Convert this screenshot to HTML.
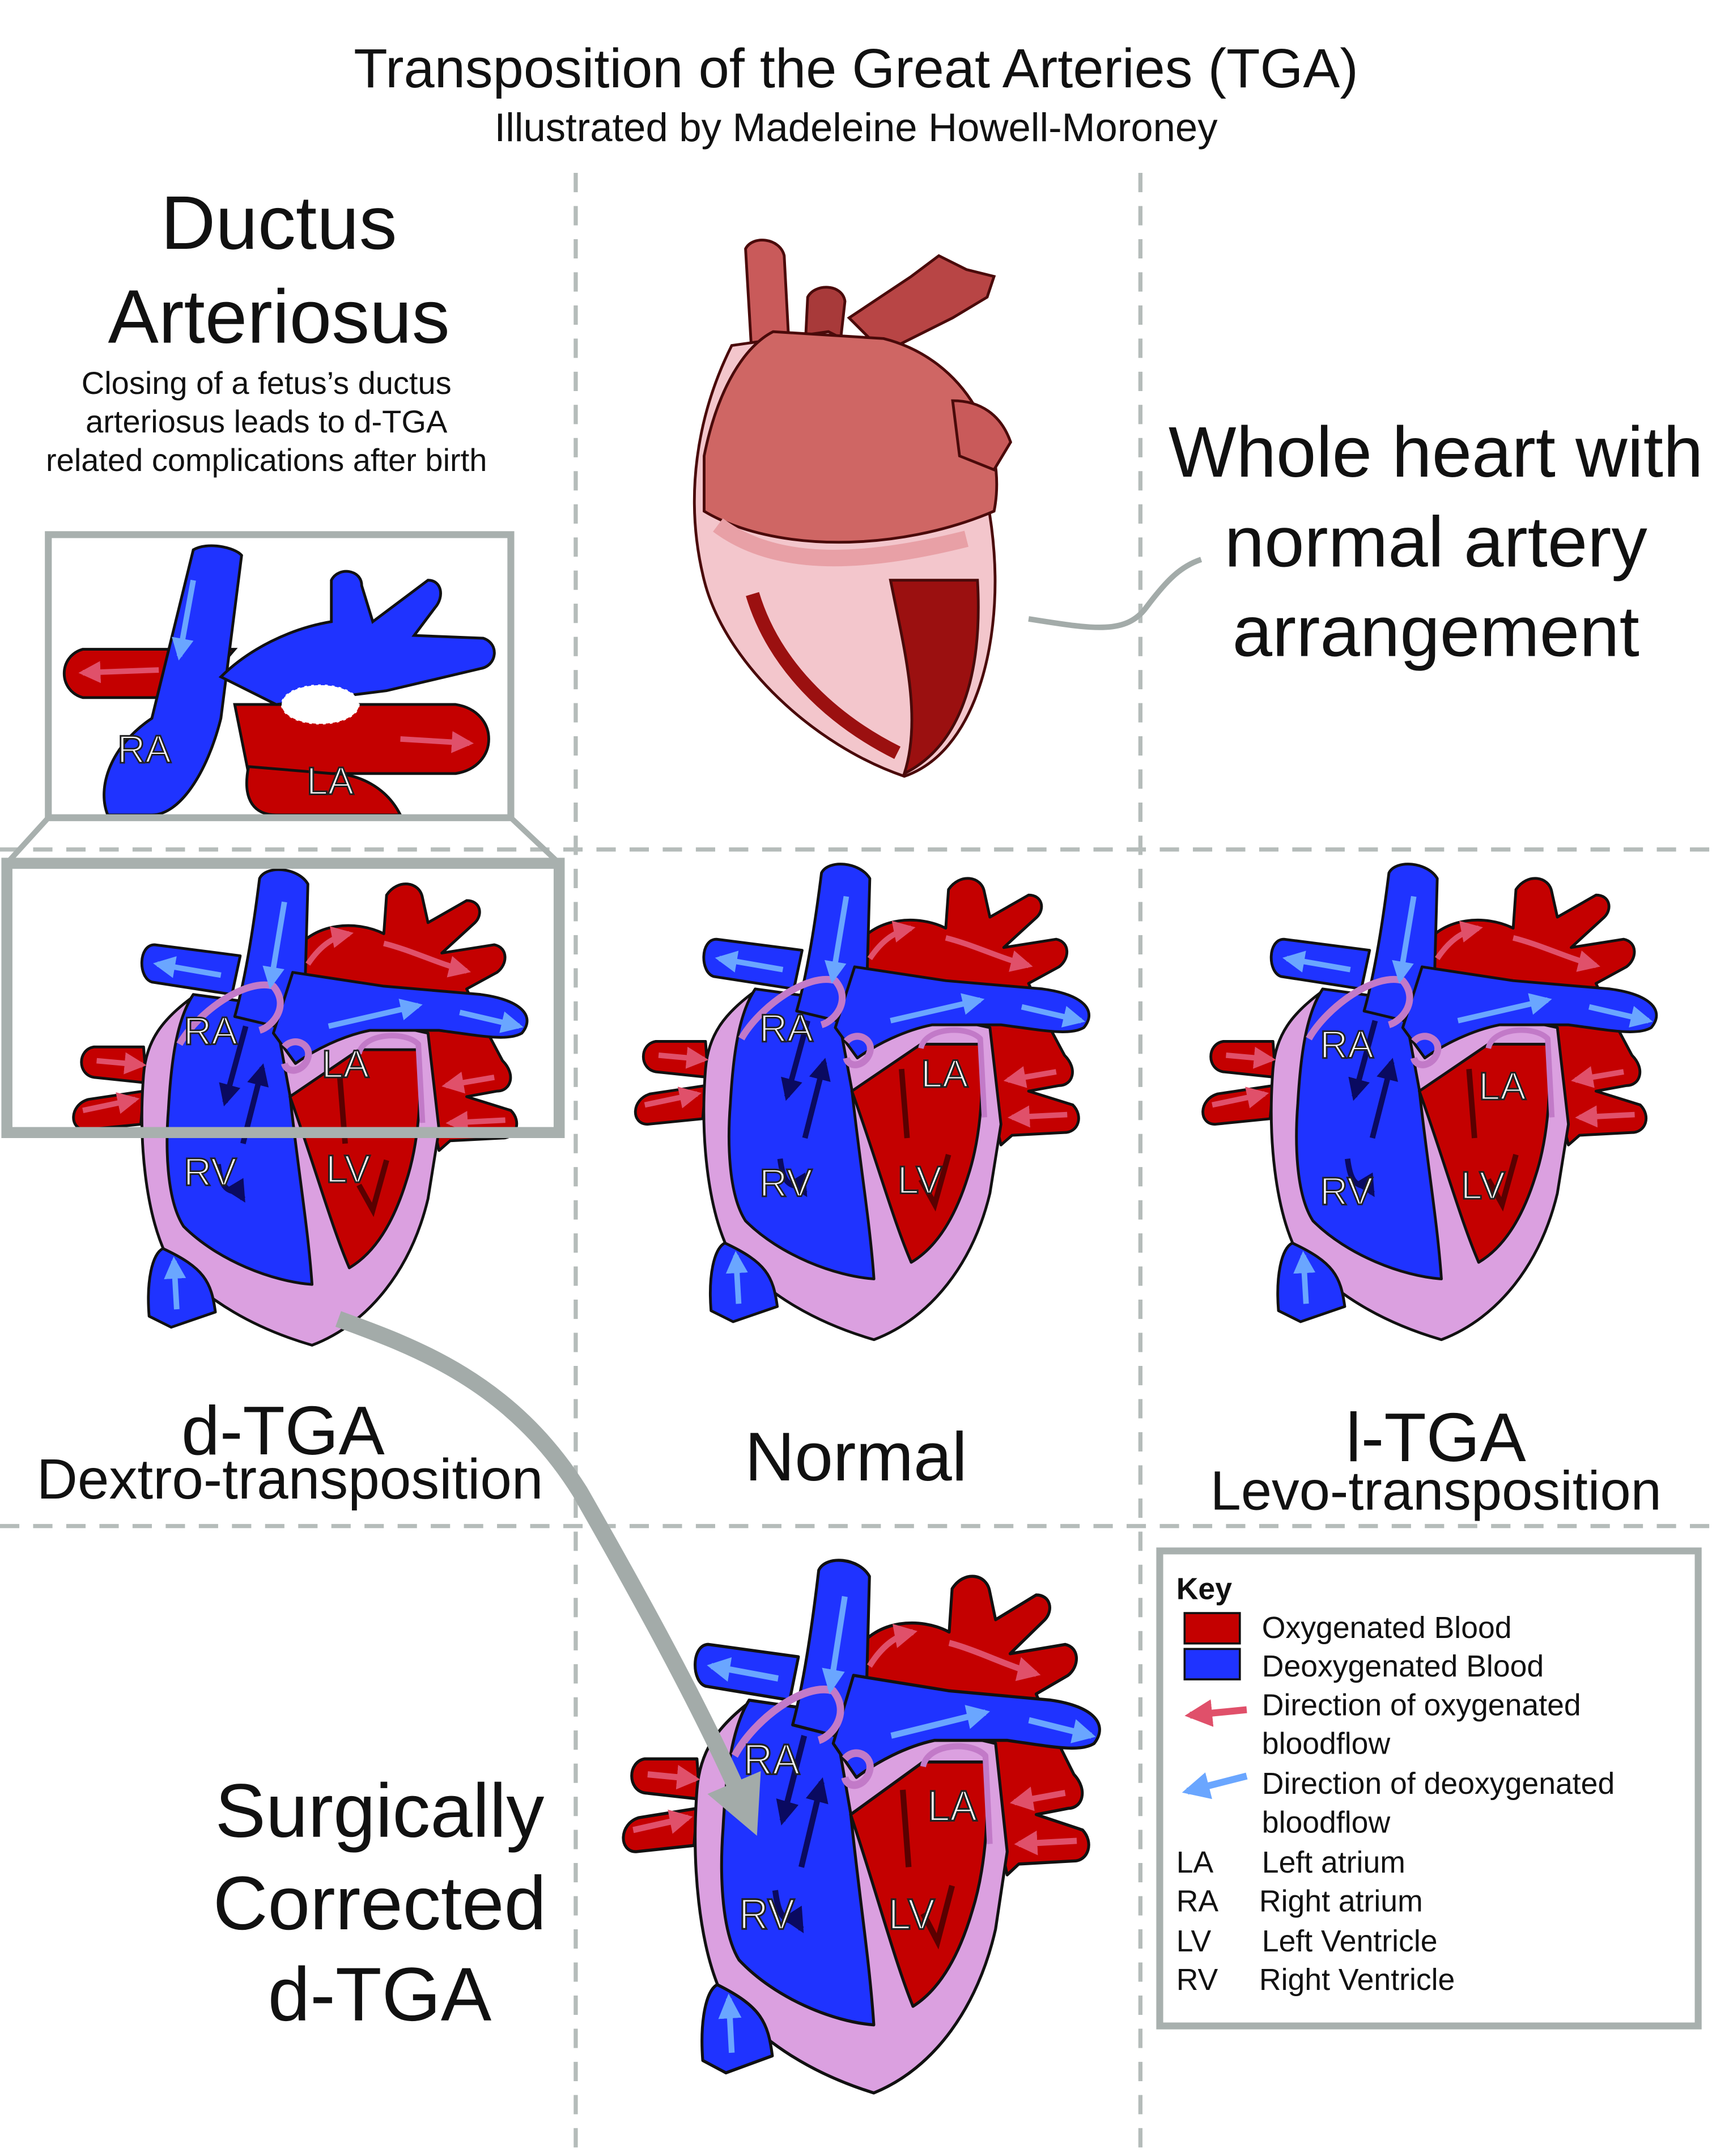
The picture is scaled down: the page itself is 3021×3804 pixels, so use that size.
<!DOCTYPE html>
<html><head><meta charset="utf-8"><style>
html,body{margin:0;padding:0;background:#fff}
svg{display:block}
text{font-family:"Liberation Sans",sans-serif;fill:#111}
.hl{font-size:28px;fill:#fff;stroke:#222;stroke-width:1.2;paint-order:normal}
</style></head><body>
<svg width="3021" height="3804" viewBox="0 0 1240 1561" xmlns="http://www.w3.org/2000/svg">
<defs>
<marker id="ab" viewBox="0 0 10 10" refX="8" refY="5" markerWidth="4" markerHeight="4" orient="auto"><path d="M0,0L10,5L0,10z" fill="#6aa6ff"/></marker>
<marker id="ar" viewBox="0 0 10 10" refX="8" refY="5" markerWidth="4" markerHeight="4" orient="auto"><path d="M0,0L10,5L0,10z" fill="#e0506a"/></marker>
<marker id="ad" viewBox="0 0 10 10" refX="8" refY="5" markerWidth="4" markerHeight="4" orient="auto"><path d="M0,0L10,5L0,10z" fill="#0a0a60"/></marker>
<marker id="ag" viewBox="0 0 10 10" refX="5" refY="5" markerWidth="3.5" markerHeight="3.5" orient="auto"><path d="M0,0L10,5L0,10z" fill="#a3aba9"/></marker>
<g id="heart" stroke="#111" stroke-width="2" stroke-linejoin="round">
  <path d="M56,130 L20,130 C8,132 8,150 20,152 L58,156 Z" fill="#c40000"/>
  <path d="M56,162 L16,168 C2,172 2,190 14,190 L54,186 Z" fill="#c40000"/>
  <path d="M166,60 C180,40 210,38 230,48 L232,20 C240,8 256,10 258,22 L262,40 L290,24 C300,24 302,34 296,40 L272,62 L310,56 C320,58 320,70 312,76 L290,88 L300,110 L316,140 C326,150 322,162 312,162 L290,166 L322,176 C330,184 326,196 316,196 L278,198 L270,205 L255,140 L170,130 Z" fill="#c40000"/>
  <path d="M90,95 C70,110 58,125 56,150 C52,200 58,250 72,280 C100,315 140,335 178,346 C220,330 250,290 262,240 L270,190 L262,120 L170,100 Z" fill="#dba0e0"/>
  <path d="M92,92 L150,100 L162,165 C168,220 175,260 178,302 C150,300 110,285 85,260 C72,240 72,200 74,175 C76,140 80,110 92,92 Z" fill="#1f33ff"/>
  <path d="M162,166 L212,132 L256,132 C258,180 252,210 246,228 C236,260 222,280 205,290 C192,260 178,210 162,166 Z" fill="#c40000"/>
  <path d="M70,276 C62,280 58,300 60,325 L76,333 L108,322 C105,300 100,290 70,276 Z" fill="#1f33ff"/>
  <path d="M140,8 C145,-2 168,0 175,12 L172,120 L122,108 C130,80 136,40 140,8 Z" fill="#1f33ff"/>
  <path d="M126,64 L64,56 C52,56 52,80 62,83 L120,92 Z" fill="#1f33ff"/>
  <path d="M164,76 L230,86 L300,92 C330,96 340,108 330,120 C320,126 300,122 270,118 L220,118 C200,122 180,132 166,142 L150,120 Z" fill="#1f33ff"/>
  <path d="M82,128 C95,105 130,80 150,86 C162,100 150,115 140,118 M158,130 C165,122 178,128 175,138 C172,148 160,150 158,142" fill="none" stroke="#c27ac8" stroke-width="5"/>
  <path d="M212,135 C215,120 245,118 255,128 L258,185" fill="none" stroke="#c27ac8" stroke-width="4"/>
</g>
<g id="flow">
  <path d="M158,25 L148,85" stroke="#6aa6ff" stroke-width="4" fill="none" marker-end="url(#ab)"/>
  <path d="M112,78 L66,70" stroke="#6aa6ff" stroke-width="4" fill="none" marker-end="url(#ab)"/>
  <path d="M190,115 L255,100" stroke="#6aa6ff" stroke-width="4" fill="none" marker-end="url(#ab)"/>
  <path d="M285,105 L328,115" stroke="#6aa6ff" stroke-width="4" fill="none" marker-end="url(#ab)"/>
  <path d="M80,320 L78,285" stroke="#6aa6ff" stroke-width="4" fill="none" marker-end="url(#ab)"/>
  <path d="M175,70 C185,55 195,50 205,48" stroke="#e0506a" stroke-width="4" fill="none" marker-end="url(#ar)"/>
  <path d="M230,55 C250,60 270,70 290,75" stroke="#e0506a" stroke-width="4" fill="none" marker-end="url(#ar)"/>
  <path d="M12,176 L50,168" stroke="#e0506a" stroke-width="4" fill="none" marker-end="url(#ar)"/>
  <path d="M22,140 L55,143" stroke="#e0506a" stroke-width="4" fill="none" marker-end="url(#ar)"/>
  <path d="M310,152 L275,158" stroke="#e0506a" stroke-width="4" fill="none" marker-end="url(#ar)"/>
  <path d="M318,183 L278,185" stroke="#e0506a" stroke-width="4" fill="none" marker-end="url(#ar)"/>
  <path d="M130,115 L115,170" stroke="#0a0a60" stroke-width="4" fill="none" marker-end="url(#ad)"/>
  <path d="M128,200 L142,145" stroke="#0a0a60" stroke-width="4" fill="none" marker-end="url(#ad)"/>
  <path d="M110,215 C112,230 115,235 125,235 L128,240" stroke="#0a0a60" stroke-width="4" fill="none" marker-end="url(#ad)"/>
  <path d="M202,200 L198,150" stroke="#5a0000" stroke-width="4" fill="none"/>
  <path d="M232,212 L222,248 L212,230" stroke="#5a0000" stroke-width="4" fill="none"/>
</g>
</defs>

<text x="620" y="63" font-size="40" text-anchor="middle">Transposition of the Great Arteries (TGA)</text>
<text x="620" y="102" font-size="29" text-anchor="middle">Illustrated by Madeleine Howell-Moroney</text>

<g stroke="#b5bcba" stroke-width="3" stroke-dasharray="14,10">
<line x1="417" y1="125" x2="417" y2="1561"/>
<line x1="826" y1="125" x2="826" y2="1561"/>
<line x1="0" y1="615" x2="1240" y2="615"/>
<line x1="0" y1="1105" x2="1240" y2="1105"/>
</g>

<text x="202" y="180" font-size="55" text-anchor="middle">Ductus</text>
<text x="202" y="248" font-size="55" text-anchor="middle">Arteriosus</text>
<text x="193" y="285" font-size="23" text-anchor="middle">Closing of a fetus’s ductus</text>
<text x="193" y="313" font-size="23" text-anchor="middle">arteriosus leads to d-TGA</text>
<text x="193" y="341" font-size="23" text-anchor="middle">related complications after birth</text>

<g stroke="#111" stroke-width="2">
<path d="M170,470 L60,470 C42,475 42,500 60,505 L140,505 Z" fill="#c40000"/>
<path d="M170,510 L330,510 C362,515 362,555 330,560 L180,560 Z" fill="#c40000"/>
<path d="M180,555 C175,580 185,590 200,590 L290,590 C280,570 260,560 240,560 Z" fill="#c40000"/>
<path d="M140,398 C150,392 170,396 175,402 L160,520 C150,560 130,590 110,590 L78,590 C70,570 80,540 110,520 Z" fill="#1f33ff"/>
<path d="M160,490 C180,470 210,455 240,450 L240,420 C245,410 262,412 262,424 L270,450 L310,420 C320,420 322,432 315,440 L300,460 L350,462 C362,466 360,482 348,484 L280,500 L200,510 Z" fill="#1f33ff"/>
</g>
<ellipse cx="232" cy="510" rx="28" ry="14" fill="#fff" stroke="#fff" stroke-dasharray="2,3"/>
<path d="M140,420 L130,475" stroke="#6aa6ff" stroke-width="4" marker-end="url(#ab)"/>
<path d="M115,485 L60,487" stroke="#e0506a" stroke-width="4" marker-end="url(#ar)"/>
<path d="M290,535 L340,538" stroke="#e0506a" stroke-width="4" marker-end="url(#ar)"/>
<text x="85" y="552" class="hl">RA</text>
<text x="222" y="575" class="hl">LA</text>
<rect x="35" y="387" width="335" height="205" fill="none" stroke="#a8b0ae" stroke-width="5"/>
<line x1="35" y1="592" x2="5" y2="625" stroke="#a8b0ae" stroke-width="4"/>
<line x1="370" y1="592" x2="405" y2="625" stroke="#a8b0ae" stroke-width="4"/>

<!-- whole heart -->
<g stroke="#4a0a0a" stroke-width="2">
<path d="M540,180 C545,170 565,172 568,185 L572,260 L545,265 Z" fill="#c95a5a"/>
<path d="M585,215 C590,205 610,205 612,218 L605,280 L582,275 Z" fill="#a83a3a"/>
<path d="M615,230 L660,200 L680,185 L700,195 L720,200 L715,215 L690,230 L640,255 Z" fill="#b84545"/>
<path d="M530,250 C505,300 495,360 510,420 C525,480 590,540 655,562 C705,545 725,470 720,400 C715,330 690,280 650,265 L600,240 Z" fill="#f3c6cc"/>
<path d="M510,330 C520,280 540,250 560,240 L640,245 C700,260 730,320 720,370 C650,400 560,400 510,370 Z" fill="#cf6664"/>
<path d="M690,290 C710,290 725,300 732,320 L720,340 L695,330 Z" fill="#c95a5a"/>
<path d="M645,420 C655,470 668,520 655,560 C695,540 712,490 708,420 Z" fill="#9b1010"/>
<path d="M545,430 C560,480 600,520 650,545" fill="none" stroke="#9b1010" stroke-width="10"/>
<path d="M520,380 C560,410 620,410 700,390" fill="none" stroke="#e8a0a6" stroke-width="12"/>
</g>
<text x="1040" y="345" font-size="52" text-anchor="middle">Whole heart with</text>
<text x="1040" y="410" font-size="52" text-anchor="middle">normal artery</text>
<text x="1040" y="475" font-size="52" text-anchor="middle">arrangement</text>
<path d="M745,448 C790,455 815,460 830,440 C845,420 855,410 870,405" fill="none" stroke="#a3aba9" stroke-width="4"/>

<g transform="translate(48,628)"><use href="#heart"/><use href="#flow"/>
<text x="85" y="128" class="hl">RA</text><text x="185" y="152" class="hl">LA</text><text x="85" y="230" class="hl">RV</text><text x="188" y="228" class="hl">LV</text></g>
<rect x="5" y="625" width="400" height="195" fill="none" stroke="#a8b0ae" stroke-width="8"/>

<g transform="translate(455,624)"><use href="#heart"/><use href="#flow"/>
<text x="95" y="130" class="hl">RA</text><text x="212" y="163" class="hl">LA</text><text x="95" y="242" class="hl">RV</text><text x="195" y="240" class="hl">LV</text></g>

<g transform="translate(866,624)"><use href="#heart"/><use href="#flow"/>
<text x="90" y="142" class="hl">RA</text><text x="205" y="172" class="hl">LA</text><text x="90" y="248" class="hl">RV</text><text x="192" y="244" class="hl">LV</text></g>

<g transform="translate(446,1128) scale(1.05,1.12)"><use href="#heart"/><use href="#flow"/>
<text x="88" y="140" class="hl">RA</text><text x="215" y="170" class="hl">LA</text><text x="85" y="240" class="hl">RV</text><text x="188" y="240" class="hl">LV</text></g>

<text x="205" y="1053" font-size="50" text-anchor="middle">d-TGA</text>
<text x="210" y="1085" font-size="41" text-anchor="middle">Dextro-transposition</text>
<text x="620" y="1072" font-size="50" text-anchor="middle">Normal</text>
<text x="1040" y="1058" font-size="50" text-anchor="middle">l-TGA</text>
<text x="1040" y="1093" font-size="40" text-anchor="middle">Levo-transposition</text>

<path d="M245,955 C300,975 370,1000 420,1080 C460,1150 510,1240 540,1310" fill="none" stroke="#a3aba9" stroke-width="12" marker-end="url(#ag)"/>

<text x="275" y="1330" font-size="55" text-anchor="middle">Surgically</text>
<text x="275" y="1397" font-size="55" text-anchor="middle">Corrected</text>
<text x="275" y="1463" font-size="55" text-anchor="middle">d-TGA</text>

<rect x="840" y="1123" width="390" height="344" fill="#fff" stroke="#a8b0ae" stroke-width="5"/>
<text x="852" y="1158" font-size="22" font-weight="bold">Key</text>
<rect x="858" y="1168" width="40" height="22" fill="#c40000" stroke="#111" stroke-width="1.5"/>
<rect x="858" y="1194" width="40" height="22" fill="#1f33ff" stroke="#111" stroke-width="1.5"/>
<path d="M903,1238 L862,1242" stroke="#e0506a" stroke-width="5" marker-end="url(#ar)"/>
<path d="M903,1286 L860,1297" stroke="#6aa6ff" stroke-width="5" marker-end="url(#ab)"/>
<g font-size="22">
<text x="914" y="1186">Oxygenated Blood</text>
<text x="914" y="1214">Deoxygenated Blood</text>
<text x="914" y="1242">Direction of oxygenated</text>
<text x="914" y="1270">bloodflow</text>
<text x="914" y="1299">Direction of deoxygenated</text>
<text x="914" y="1327">bloodflow</text>
<text x="852" y="1356">LA</text><text x="914" y="1356">Left atrium</text>
<text x="852" y="1384">RA</text><text x="912" y="1384">Right atrium</text>
<text x="852" y="1413">LV</text><text x="914" y="1413">Left Ventricle</text>
<text x="852" y="1441">RV</text><text x="912" y="1441">Right Ventricle</text>
</g>
</svg>
</body></html>
